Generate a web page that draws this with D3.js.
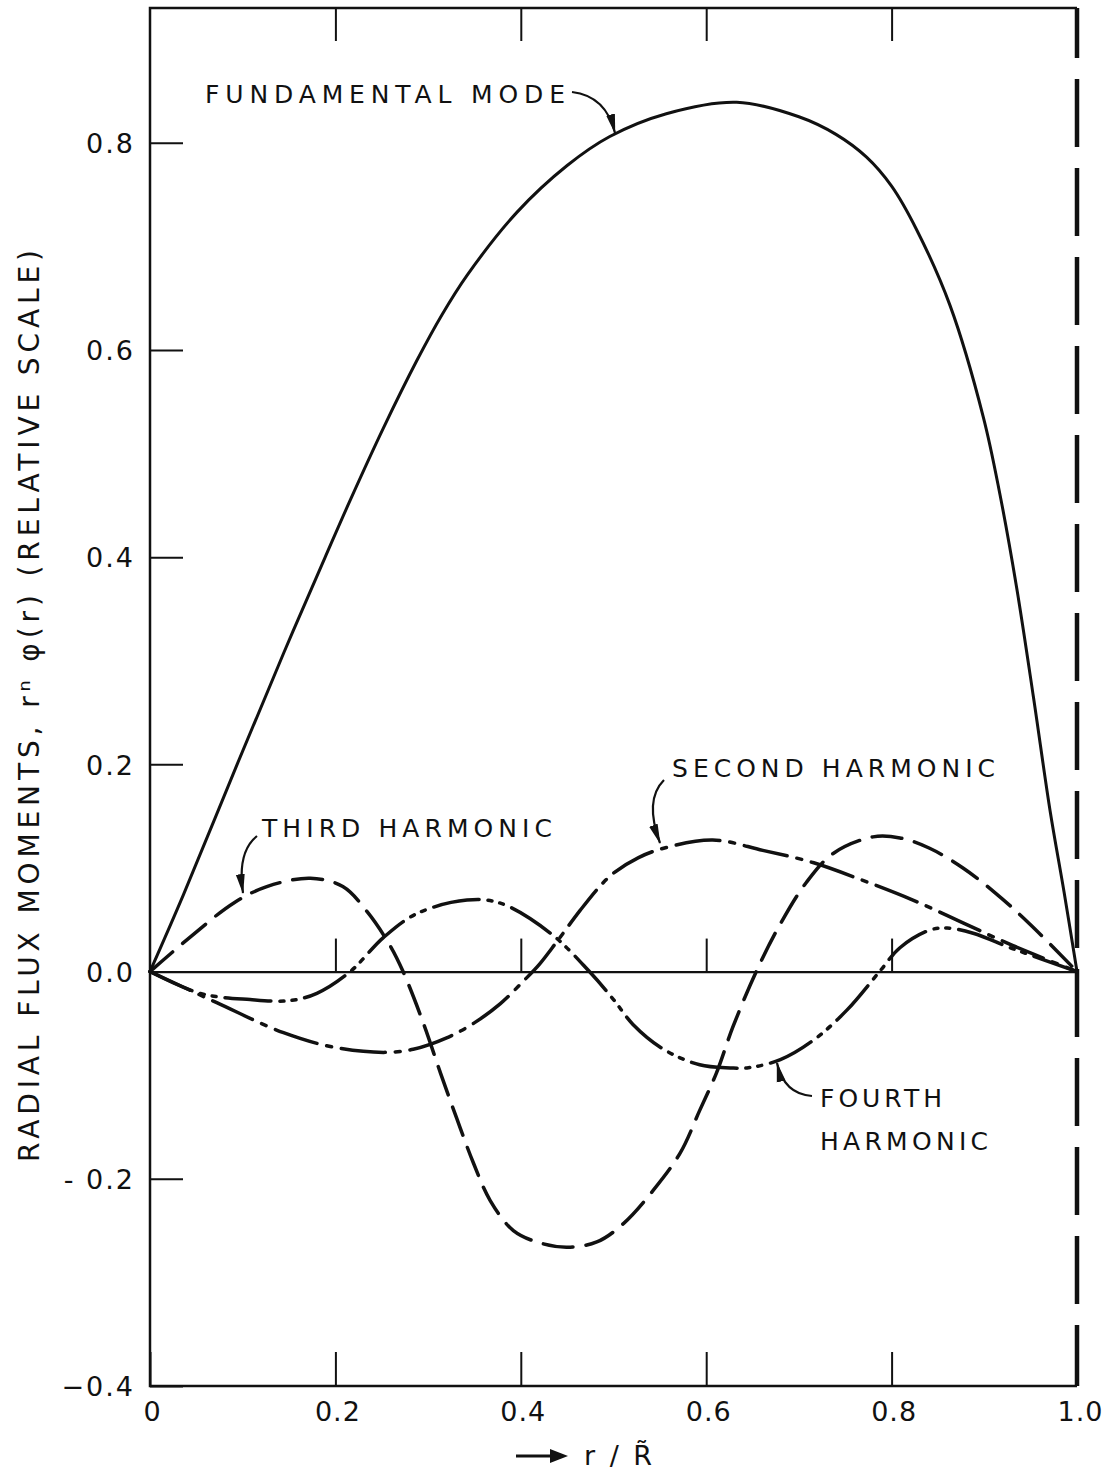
<!DOCTYPE html>
<html>
<head>
<meta charset="utf-8">
<script src="https://cdn.jsdelivr.net/npm/d3@7"></script>
<style>
  html, body { margin: 0; padding: 0; background: #fff; }
  svg { display: block; }
  text { font-family: "DejaVu Sans", "Liberation Sans", sans-serif; fill: #111; }
</style>
</head>
<body>
<svg id="chart" width="1110" height="1470"></svg>
<script>
// ---------------- data ----------------
const xTicks = [0, 0.2, 0.4, 0.6, 0.8, 1.0];
const xTickLabels = ["0", "0.2", "0.4", "0.6", "0.8", "1.0"];
const yTicks = [-0.4, -0.2, 0.0, 0.2, 0.4, 0.6, 0.8];
const yTickLabels = ["\u22120.4", "- 0.2", "0.0", "0.2", "0.4", "0.6", "0.8"];
const innerTicks = [0.2, 0.4, 0.6, 0.8];

const fundamentalR = [0, 0.036, 0.094, 0.144, 0.189, 0.216, 0.252, 0.288, 0.315, 0.342, 0.396, 0.45, 0.496, 0.557, 0.633, 0.70, 0.74, 0.773, 0.80, 0.827, 0.863, 0.899, 0.917, 0.935, 0.953, 0.971, 0.986, 1.0];
const fundamentalV = [0, 0.074, 0.200, 0.307, 0.400, 0.455, 0.525, 0.590, 0.634, 0.672, 0.733, 0.778, 0.806, 0.828, 0.839, 0.825, 0.808, 0.786, 0.758, 0.716, 0.643, 0.535, 0.460, 0.370, 0.265, 0.155, 0.077, 0];

const secondR = [0, 0.072, 0.144, 0.198, 0.252, 0.284, 0.320, 0.349, 0.378, 0.403, 0.420, 0.439, 0.464, 0.485, 0.5, 0.527, 0.554, 0.607, 0.661, 0.716, 0.769, 0.823, 0.877, 0.931, 1.0];
const secondV = [0, -0.030, -0.059, -0.073, -0.078, -0.075, -0.064, -0.050, -0.031, -0.009, 0.007, 0.029, 0.059, 0.082, 0.095, 0.110, 0.119, 0.127, 0.117, 0.105, 0.088, 0.069, 0.047, 0.025, 0];

const thirdR = [0, 0.043, 0.090, 0.126, 0.173, 0.208, 0.234, 0.259, 0.273, 0.295, 0.313, 0.331, 0.349, 0.367, 0.392, 0.421, 0.450, 0.482, 0.511, 0.543, 0.572, 0.593, 0.611, 0.629, 0.655, 0.680, 0.708, 0.737, 0.780, 0.809, 0.841, 0.877, 0.913, 0.949, 1.0];
const thirdV = [0, 0.033, 0.066, 0.082, 0.090, 0.082, 0.058, 0.025, 0.0, -0.050, -0.097, -0.142, -0.185, -0.221, -0.250, -0.262, -0.266, -0.261, -0.243, -0.211, -0.175, -0.134, -0.098, -0.053, 0.002, 0.046, 0.086, 0.114, 0.130, 0.129, 0.119, 0.100, 0.075, 0.046, 0];

const fourthR = [0, 0.054, 0.108, 0.151, 0.180, 0.216, 0.252, 0.288, 0.342, 0.378, 0.432, 0.474, 0.5, 0.521, 0.554, 0.593, 0.626, 0.644, 0.680, 0.716, 0.752, 0.787, 0.809, 0.841, 0.86, 0.888, 0.931, 1.0];
const fourthV = [0, -0.021, -0.027, -0.028, -0.021, 0.0, 0.033, 0.056, 0.069, 0.066, 0.037, 0.0, -0.027, -0.051, -0.075, -0.090, -0.093, -0.093, -0.085, -0.066, -0.037, 0.0, 0.023, 0.040, 0.042, 0.037, 0.022, 0];

const seriesNames = ["FUNDAMENTAL MODE", "SECOND HARMONIC", "THIRD HARMONIC", "FOURTH HARMONIC"];

// ---------------- chart ----------------
const svg = d3.select("#chart");
const pLeft = 150, pRight = 1077, pTop = 8, pBottom = 1386;
const x = d3.scaleLinear().domain([0, 1]).range([pLeft, pRight]);
const y = d3.scaleLinear().domain([-0.4, 0.93]).range([pBottom, pTop]);
const ink = "#111";

svg.append("rect").attr("width", 1110).attr("height", 1470).attr("fill", "#fff");

// frame: left, top, bottom solid; right dashed
const frame = svg.append("g").attr("stroke", ink).attr("fill", "none");
frame.append("path").attr("stroke-width", 2.5)
  .attr("d", `M${x(1)},${y(0.93)}H${x(0)}V${y(-0.4)}H${x(1)}`);
frame.append("line").attr("stroke-width", 4.5)
  .attr("x1", x(1)).attr("x2", x(1)).attr("y1", y(0.93)).attr("y2", y(-0.4))
  .attr("stroke-dasharray", "68,21").attr("stroke-dashoffset", 18);

// left axis (inward ticks)
const yAxis = d3.axisLeft(y).tickValues(yTicks).tickSize(-33).tickPadding(15)
  .tickFormat((d, i) => yTickLabels[i]);
const gy = svg.append("g").attr("transform", `translate(${pLeft},0)`).call(yAxis);
gy.select(".domain").remove();
gy.selectAll(".tick line").attr("stroke", ink).attr("stroke-width", 2);
gy.selectAll(".tick text").attr("font-size", 27).attr("letter-spacing", 2)
  .attr("fill", ink).attr("font-family", "DejaVu Sans").attr("dy", "0.36em");

// bottom axis
const xAxis = d3.axisBottom(x).tickValues(xTicks).tickSize(-34).tickPadding(16)
  .tickFormat((d, i) => xTickLabels[i]);
const gx = svg.append("g").attr("transform", `translate(0,${pBottom})`).call(xAxis);
gx.select(".domain").remove();
gx.selectAll(".tick line").attr("stroke", ink).attr("stroke-width", 2);
gx.selectAll(".tick text").attr("font-size", 27).attr("letter-spacing", 1)
  .attr("fill", ink).attr("font-family", "DejaVu Sans")
  .attr("dx", (d, i) => (i === xTicks.length - 1 ? 3 : 2));

// top axis ticks (inward)
const gt = svg.append("g").attr("transform", `translate(0,${pTop})`)
  .call(d3.axisTop(x).tickValues(innerTicks).tickSize(-33).tickFormat(""));
gt.select(".domain").remove();
gt.selectAll(".tick line").attr("stroke", ink).attr("stroke-width", 2);

// zero line with upward ticks
const gz = svg.append("g").attr("transform", `translate(0,${y(0)})`)
  .call(d3.axisTop(x).tickValues(innerTicks).tickSize(33).tickSizeOuter(0).tickFormat(""));
gz.select(".domain").attr("stroke", ink).attr("stroke-width", 2.2);
gz.selectAll(".tick line").attr("stroke", ink).attr("stroke-width", 2);

// curves
const line = d3.line().x(d => x(d[0])).y(d => y(d[1])).curve(d3.curveCatmullRom.alpha(0.5));
const zip = (a, b) => a.map((v, i) => [v, b[i]]);
const curves = [
  { name: seriesNames[0], data: zip(fundamentalR, fundamentalV), dash: null, w: 3 },
  { name: seriesNames[1], data: zip(secondR, secondV), dash: "44,10,5,10", w: 3.5 },
  { name: seriesNames[2], data: zip(thirdR, thirdV), dash: "30,13", w: 3.5 },
  { name: seriesNames[3], data: zip(fourthR, fourthV), dash: "46,9,4,8,4,9", w: 3.5 },
];
svg.append("g").selectAll("path").data(curves).join("path")
  .attr("d", d => line(d.data))
  .attr("fill", "none").attr("stroke", ink)
  .attr("stroke-width", d => d.w)
  .attr("stroke-linecap", "round")
  .attr("stroke-dasharray", d => d.dash);

// arrow marker
const defs = svg.append("defs");
defs.append("marker").attr("id", "ah").attr("viewBox", "0 0 20 10")
  .attr("refX", 19).attr("refY", 5).attr("markerWidth", 20).attr("markerHeight", 10)
  .attr("markerUnits", "userSpaceOnUse").attr("orient", "auto")
  .append("path").attr("d", "M0,0.5 L20,5 L0,9.5 Z").attr("fill", ink);

// annotations
const ann = svg.append("g");
function label(txt, xx, yy, len) {
  ann.append("text").attr("x", xx).attr("y", yy).attr("font-size", 25)
    .attr("textLength", len).attr("lengthAdjust", "spacing").text(txt);
}
label("FUNDAMENTAL MODE", 205, 103, 360);
label("THIRD HARMONIC", 262, 837, 290);
label("SECOND HARMONIC", 672, 777, 323);
label("FOURTH", 820, 1107, 122);
label("HARMONIC", 820, 1150, 168);

const arrows = [
  "M572,92 Q606,96 615,133",
  "M257,836 Q237,852 243,893",
  "M664,780 Q644,800 660,843",
  "M812,1096 Q784,1094 777,1063",
];
ann.selectAll("path.arr").data(arrows).join("path").attr("class", "arr")
  .attr("d", d => d).attr("fill", "none").attr("stroke", ink).attr("stroke-width", 2.2)
  .attr("marker-end", "url(#ah)");

// y axis title
svg.append("text")
  .attr("transform", "translate(39,1162) rotate(-90)")
  .attr("font-size", 28).attr("textLength", 912).attr("lengthAdjust", "spacing")
  .text("RADIAL FLUX MOMENTS, r\u207F \u03C6(r) (RELATIVE SCALE)");

// x axis title with arrow
svg.append("path").attr("d", "M516,1456 H552").attr("stroke", ink).attr("stroke-width", 3);
svg.append("path").attr("d", "M550,1449 L568,1456 L550,1463 Z").attr("fill", ink);
svg.append("text").attr("x", 584).attr("y", 1465).attr("font-size", 27)
  .attr("letter-spacing", 3).text("r / R\u0303");
</script>
</body>
</html>
